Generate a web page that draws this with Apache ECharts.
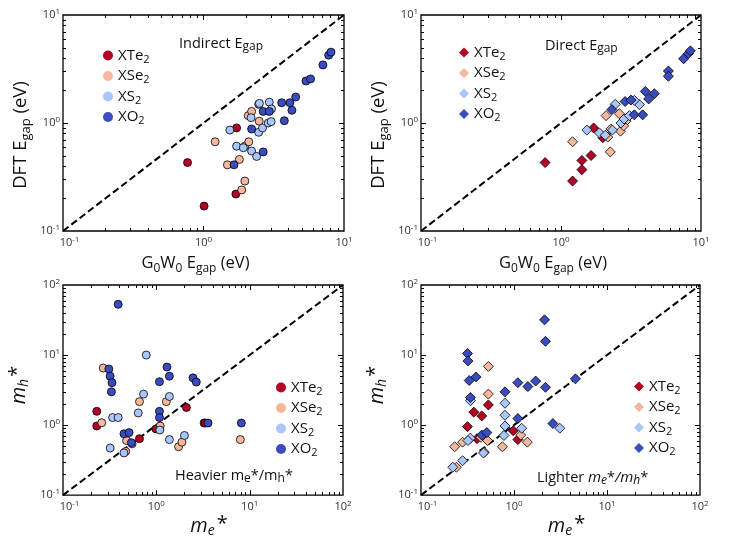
<!DOCTYPE html>
<html>
<head>
<meta charset="utf-8">
<script src="https://cdn.jsdelivr.net/npm/echarts@6/dist/echarts.min.js"></script>
<style>
  html, body { margin: 0; padding: 0; background: #fff; }
  #chart { width: 730px; height: 539px; }
</style>
</head>
<body>
<div id="chart"></div>
<script>
// ---- data, [x, y] pairs ----
// indirect gap: G0W0 vs DFT (eV)
var indirectXTe2 = [[0.77, 0.43], [1.72, 0.90], [1.70, 0.22], [1.01, 0.17]];
var indirectXSe2 = [[1.21, 0.67], [1.48, 0.41], [1.80, 0.46], [1.97, 0.29], [1.87, 0.24], [1.97, 0.61], [2.10, 0.67], [2.08, 1.17], [2.20, 1.28], [2.49, 1.04]];
var indirectXS2 = [[1.54, 0.86], [1.72, 0.61], [1.92, 0.59], [2.20, 0.55], [2.39, 0.49], [2.47, 0.82], [2.63, 0.90], [2.47, 1.49], [2.50, 1.52], [2.94, 1.56], [3.05, 1.35], [2.89, 1.00], [3.03, 1.03], [2.18, 1.12]];
var indirectXO2 = [[1.65, 0.41], [2.20, 0.88], [2.66, 0.54], [2.66, 1.28], [2.94, 1.28], [3.60, 1.54], [3.76, 1.05], [4.12, 1.54], [4.26, 1.31], [4.53, 1.74], [5.36, 2.45], [5.78, 2.56], [7.08, 3.45], [7.78, 4.25], [8.08, 4.53]];

// direct gap
var directXTe2 = [[0.77, 0.43], [1.21, 0.29], [1.41, 0.37], [1.41, 0.45], [1.64, 0.50], [1.71, 0.90], [1.99, 0.73]];
var directXSe2 = [[1.21, 0.67], [2.25, 0.54], [2.10, 1.17], [2.16, 0.74], [2.27, 0.88], [2.61, 1.22], [2.66, 0.84], [2.91, 1.04], [2.80, 0.94]];
var directXS2 = [[1.53, 0.86], [1.88, 0.81], [2.07, 0.77], [2.44, 1.49], [2.33, 0.86], [2.68, 1.00], [2.82, 1.09], [3.63, 1.48], [3.34, 1.62], [3.08, 1.17]];
var directXO2 = [[2.31, 1.33], [2.87, 1.58], [3.16, 1.63], [3.34, 1.19], [3.83, 1.19], [4.00, 1.96], [4.23, 1.67], [4.64, 1.87], [5.85, 3.03], [5.85, 2.71], [7.51, 3.93], [8.13, 4.40], [8.40, 4.66]];

// heavier effective masses: me* vs mh*
var heavyXTe2 = [[0.23, 1.57], [0.23, 0.97], [0.66, 0.64], [0.99, 0.88], [2.10, 1.78], [3.25, 1.07], [3.35, 1.07]];
var heavyXSe2 = [[0.27, 6.52], [0.26, 1.08], [0.66, 2.16], [0.48, 0.60], [0.47, 0.42], [1.10, 0.97], [1.28, 2.16], [1.73, 0.49], [1.88, 0.57], [7.94, 0.62]];
var heavyXS2 = [[0.32, 0.47], [0.34, 1.28], [0.39, 1.28], [0.45, 0.40], [0.55, 0.54], [0.64, 1.49], [0.73, 2.77], [0.78, 10.0], [1.09, 0.85], [1.38, 0.62], [1.38, 2.56], [2.00, 0.71]];
var heavyXO2 = [[0.39, 53], [0.31, 6.31], [0.32, 4.99], [0.335, 4.03], [0.33, 2.98], [0.45, 0.75], [0.51, 0.78], [0.54, 0.56], [1.08, 1.57], [1.08, 1.28], [1.08, 4.16], [1.30, 6.73], [1.38, 4.99], [2.47, 4.72], [2.68, 4.11], [3.58, 1.07], [8.14, 1.07]];

// lighter effective masses
var lightXTe2 = [[0.316, 0.95], [0.37, 1.53], [0.45, 1.35], [0.53, 1.94], [0.40, 0.64], [0.98, 0.83], [1.10, 0.62]];
var lightXSe2 = [[0.23, 0.49], [0.28, 0.57], [0.24, 0.25], [0.53, 6.87], [0.53, 2.77], [0.44, 0.67], [0.52, 0.60], [0.48, 0.41], [0.75, 0.49], [1.39, 0.57], [1.18, 0.72]];
var lightXS2 = [[0.22, 0.25], [0.28, 0.31], [0.34, 2.23], [0.34, 0.65], [0.32, 0.60], [0.47, 0.40], [0.80, 2.05], [0.80, 1.38], [0.80, 0.97], [0.78, 0.71], [1.21, 0.90], [3.11, 0.90]];
var lightXO2 = [[0.316, 10.5], [0.32, 8.24], [0.33, 4.33], [0.39, 4.87], [0.34, 2.48], [0.45, 0.72], [0.51, 0.78], [0.80, 2.98], [1.10, 4.03], [1.10, 1.24], [1.41, 3.54], [1.71, 4.25], [2.13, 31.8], [2.18, 15.7], [2.18, 3.46], [2.62, 1.05], [4.58, 4.57]];

var families = ['XTe2', 'XSe2', 'XS2', 'XO2'];
var familyColors = ['#b40426', '#f5b89c', '#aac7fd', '#3b4cc0'];

// tick values (decades get long ticks, 2..9 short ones)
var gapMajorTicks = [1];
var gapMinorTicks = [0.2, 0.3, 0.4, 0.5, 0.6, 0.7, 0.8, 0.9, 2, 3, 4, 5, 6, 7, 8, 9];
var massMajorTicks = [1, 10];
var massMinorTicks = [0.2, 0.3, 0.4, 0.5, 0.6, 0.7, 0.8, 0.9, 2, 3, 4, 5, 6, 7, 8, 9, 20, 30, 40, 50, 60, 70, 80, 90];

var FONT = '"Open Sans", Lato, sans-serif';

// one entry per subplot
var panels = [
  {
    box: { left: 63, top: 15, width: 281, height: 216 }, max: 10, symbol: 'circle', size: 8,
    sets: [indirectXTe2, indirectXSe2, indirectXS2, indirectXO2],
    major: gapMajorTicks, minor: gapMinorTicks,
    xName: 'G{s|0}W{s|0} E{s|gap} (eV)', yName: 'DFT E{s|gap} (eV)',
    xPad: [0, 16, 0, 0], yPad: [0, 24, 0, 0],
    note: 'Indirect E{s|gap}', notePos: [179, 34], legendPos: [103, 46]
  },
  {
    box: { left: 421, top: 15, width: 280, height: 216 }, max: 10, symbol: 'diamond', size: 10,
    sets: [directXTe2, directXSe2, directXS2, directXO2],
    major: gapMajorTicks, minor: gapMinorTicks,
    xName: 'G{s|0}W{s|0} E{s|gap} (eV)', yName: 'DFT E{s|gap} (eV)',
    xPad: [0, 16, 0, 0], yPad: [0, 24, 0, 0],
    note: 'Direct E{s|gap}', notePos: [545, 36], legendPos: [459, 43]
  },
  {
    box: { left: 63, top: 285, width: 280, height: 215 }, max: 100, symbol: 'circle', size: 8,
    sets: [heavyXTe2, heavyXSe2, heavyXS2, heavyXO2],
    major: massMajorTicks, minor: massMinorTicks,
    xName: '{i|m}{si|e}{a|*}', yName: '{i|m}{si|h}{a|*}',
    xPad: [0, 0, 0, 12], yPad: [0, 0, 0, 10],
    note: 'Heavier m{s|e}*/m{s|h}*', notePos: [175, 466], legendPos: [276, 378]
  },
  {
    box: { left: 421, top: 285, width: 279, height: 215 }, max: 100, symbol: 'diamond', size: 10,
    sets: [lightXTe2, lightXSe2, lightXS2, lightXO2],
    major: massMajorTicks, minor: massMinorTicks,
    xName: '{i|m}{si|e}{a|*}', yName: '{i|m}{si|h}{a|*}',
    xPad: [0, 0, 0, 12], yPad: [0, 0, 0, 10],
    note: 'Lighter {i|m}{si|e}*{i|/m}{si|h}*', notePos: [537, 468], legendPos: [634, 377]
  }
];

// rich styles for sub / superscripts
function textRich(size, ratio) {
  var sub = Math.round(size * (ratio || 0.75));
  return {
    s: { fontSize: sub, lineHeight: sub, verticalAlign: 'bottom', fontFamily: FONT, color: '#111' },
    i: { fontSize: size, fontStyle: 'italic', fontFamily: FONT, color: '#111' },
    si: { fontSize: sub, lineHeight: sub, fontStyle: 'italic', verticalAlign: 'bottom', fontFamily: FONT, color: '#111' },
    a: { fontSize: size, fontFamily: FONT, color: '#111', padding: [0, 0, 4, 2] }
  };
}

var tickRich = {
  b: { fontSize: 11, lineHeight: 14, color: '#333', fontFamily: FONT },
  e: { fontSize: 8, lineHeight: 9, verticalAlign: 'top', color: '#333', fontFamily: FONT },
  w: { width: 13 }
};

function exp10(v) {
  return Math.round(Math.log(v) / Math.LN10);
}

function logAxis(gi, max, horizontal) {
  return {
    type: 'log', logBase: 10, gridIndex: gi,
    min: 0.1, max: max,
    axisLine: { show: false },
    axisTick: { show: false },
    splitLine: { show: false },
    axisLabel: {
      margin: horizontal ? 5 : 3,
      rich: tickRich,
      formatter: function (v) {
        var e = exp10(v);
        var pad = (horizontal && e < 0) ? '{w| }' : '';
        return pad + '{b|10}{e|' + e + '}';
      }
    }
  };
}

var grids = [], xAxes = [], yAxes = [], series = [], legends = [], titles = [];

panels.forEach(function (p, gi) {
  grids.push({
    left: p.box.left, top: p.box.top, width: p.box.width, height: p.box.height,
    show: true, borderColor: '#000', borderWidth: 1.3, backgroundColor: 'transparent'
  });

  var xa = logAxis(gi, p.max, true);
  xa.name = p.xName;
  xa.nameLocation = 'middle';
  xa.nameGap = gi < 2 ? 20 : 14;
  xa.nameTextStyle = {
    fontSize: 16.5, lineHeight: 24, color: '#111', fontFamily: FONT, padding: p.xPad,
    rich: gi < 2 ? textRich(16.5, 0.7) : textRich(20, 0.7)
  };
  xAxes.push(xa);

  var ya = logAxis(gi, p.max, false);
  ya.name = p.yName;
  ya.nameLocation = 'middle';
  ya.nameGap = gi < 2 ? 30 : 32;
  ya.nameTextStyle = {
    fontSize: 18.5, lineHeight: 24, color: '#111', fontFamily: FONT, padding: p.yPad,
    rich: gi < 2 ? textRich(18.5, 0.7) : textRich(20, 0.7)
  };
  yAxes.push(ya);

  // dashed y = x reference
  series.push({
    type: 'line', name: 'diag' + gi,
    xAxisIndex: gi, yAxisIndex: gi,
    data: [[0.1, 0.1], [p.max, p.max]],
    symbol: 'none', silent: true, z: 1,
    lineStyle: { color: '#000', width: 2, type: [7, 3.5] }
  });

  families.forEach(function (f, k) {
    series.push({
      type: 'scatter', name: f,
      xAxisIndex: gi, yAxisIndex: gi,
      data: p.sets[k],
      symbol: p.symbol, symbolSize: p.size,
      itemStyle: { color: familyColors[k], opacity: 1, borderColor: '#000', borderWidth: 0.8 },
      emphasis: { disabled: true },
      z: 2 + k
    });
  });

  legends.push({
    orient: 'vertical', left: p.legendPos[0], top: p.legendPos[1],
    padding: 0, itemGap: 1.5, itemWidth: 10, itemHeight: 10,
    selectedMode: false,
    itemStyle: { borderWidth: 0, opacity: 1 },
    data: families.map(function (f) { return { name: f, icon: p.symbol }; }),
    formatter: function (name) { return name.replace(/(\d)$/, '{s|$1}'); },
    textStyle: { fontSize: 15, lineHeight: 19, color: '#111', fontFamily: FONT, rich: textRich(15) }
  });

  titles.push({
    text: p.note, left: p.notePos[0], top: p.notePos[1], padding: 0,
    textStyle: { fontSize: 14.5, lineHeight: 19, fontWeight: 'normal', color: '#111', fontFamily: FONT, rich: textRich(15, 0.8) }
  });
});

var chart = echarts.init(document.getElementById('chart'));
chart.setOption({
  animation: false,
  backgroundColor: '#fff',
  title: titles,
  legend: legends,
  grid: grids,
  xAxis: xAxes,
  yAxis: yAxes,
  series: series
});

// inward ticks on all four sides, positioned by converting tick values through each grid's axes
function tickLine(x1, y1, x2, y2) {
  return {
    type: 'line', silent: true, z: 100,
    shape: { x1: x1, y1: y1, x2: x2, y2: y2 },
    style: { stroke: '#000', lineWidth: 1 }
  };
}

var marks = [];
panels.forEach(function (p, gi) {
  var toPx = function (pt) { return chart.convertToPixel({ gridIndex: gi }, pt); };
  var lo = toPx([0.1, 0.1]);       // left, bottom
  var hi = toPx([p.max, p.max]);   // right, top
  function addTicks(values, len) {
    values.forEach(function (v) {
      var x = Math.round(toPx([v, 1])[0]) + 0.5;
      var y = Math.round(toPx([1, v])[1]) + 0.5;
      marks.push(
        tickLine(x, lo[1], x, lo[1] - len),
        tickLine(x, hi[1], x, hi[1] + len),
        tickLine(lo[0], y, lo[0] + len, y),
        tickLine(hi[0], y, hi[0] - len, y)
      );
    });
  }
  addTicks(p.major, 5);
  addTicks(p.minor, 3);
});
chart.setOption({ graphic: { elements: marks } });
</script>
</body>
</html>
